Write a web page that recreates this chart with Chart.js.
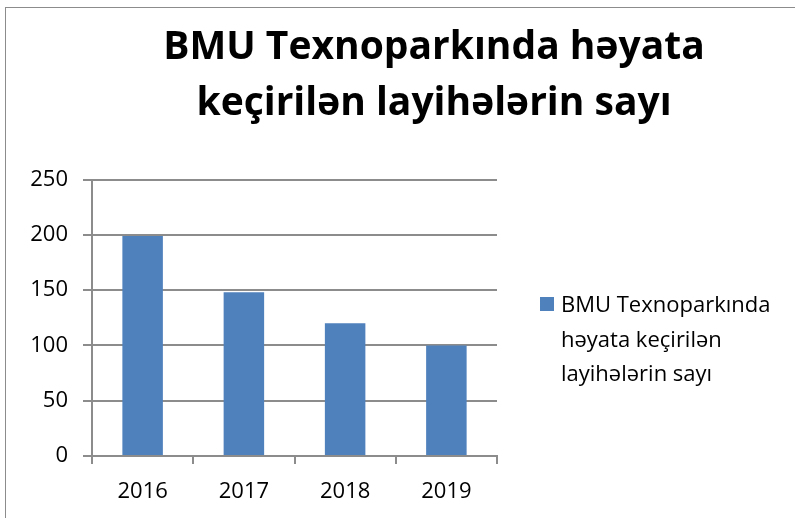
<!DOCTYPE html>
<html>
<head>
<meta charset="utf-8">
<script src="https://cdn.jsdelivr.net/npm/chart.js@4"></script>
<style>
  html, body { margin: 0; padding: 0; background: #fff; overflow: hidden; }
  #frame {
    position: absolute; left: 5px; top: 7px;
    width: 856px; height: 672px;
    border: 1px solid #8c8c8c;
  }
  #wrap { position: relative; width: 856px; height: 672px; }
  #legend {
    position: absolute; left: 534px; top: 278px;
    font-family: 'Open Sans', 'DejaVu Sans', sans-serif;
    font-size: 22px; line-height: 34.5px; color: #000;
  }
  #legend .item { position: relative; padding-left: 21px; }
  #legend .box {
    position: absolute; left: 0; top: 11px;
    width: 14px; height: 14px;
  }
</style>
</head>
<body>
<div id="frame">
  <div id="wrap"><canvas id="chart"></canvas></div>
  <div id="legend"></div>
</div>
<script>
  const titleLines = ["BMU Texnoparkında həyata", "keçirilən layihələrin sayı"];
  const seriesName = "BMU Texnoparkında həyata keçirilən layihələrin sayı";
  const legendLines = ["BMU Texnoparkında", "həyata keçirilən", "layihələrin sayı"];
  const years = ["2016", "2017", "2018", "2019"];
  const projects = [199, 148, 120, 100];

  const fontFamily = "'Open Sans', 'DejaVu Sans', sans-serif";
  const gridColor = "#8c8c8c";

  // legend is built as html, the wrapped label does not fit chart.js' own legend box
  const htmlLegend = {
    id: "htmlLegend",
    afterUpdate(chart) {
      const legendEl = document.getElementById("legend");
      legendEl.innerHTML = "";
      const items = chart.options.plugins.legend.labels.generateLabels(chart);
      items.forEach(item => {
        const div = document.createElement("div");
        div.className = "item";
        const box = document.createElement("span");
        box.className = "box";
        box.style.background = item.fillStyle;
        div.appendChild(box);
        legendLines.forEach((line, i) => {
          if (i > 0) div.appendChild(document.createElement("br"));
          div.appendChild(document.createTextNode(line));
        });
        legendEl.appendChild(div);
      });
    }
  };

  const ctx = document.getElementById("chart");
  new Chart(ctx, {
    type: "bar",
    data: {
      labels: years,
      datasets: [{
        label: seriesName,
        data: projects,
        backgroundColor: "#4f81bd",
        borderWidth: 0,
        categoryPercentage: 1.0,
        barPercentage: 0.4
      }]
    },
    options: {
      responsive: true,
      maintainAspectRatio: false,
      animation: false,
      layout: { padding: { left: 0, right: 0, top: 0, bottom: 160 } },
      plugins: {
        tooltip: { enabled: false },
        title: {
          display: true,
          text: titleLines,
          color: "#000",
          font: { family: fontFamily, size: 39, weight: "bold", lineHeight: 1.43 },
          padding: { top: 12, bottom: 48 }
        },
        legend: { display: false }
      },
      scales: {
        x: {
          grid: {
            offset: true,
            drawOnChartArea: false,
            color: gridColor,
            lineWidth: 2,
            tickLength: 8
          },
          border: { color: gridColor, width: 2 },
          ticks: { color: "#000", font: { family: fontFamily, size: 22 }, padding: 15 },
          afterFit: (scale) => { scale.height = 64; }
        },
        y: {
          min: 0,
          max: 250,
          ticks: { stepSize: 50, color: "#000", font: { family: fontFamily, size: 22 }, padding: 15 },
          grid: { color: gridColor, lineWidth: 2, tickLength: 9 },
          border: { color: gridColor, width: 2 },
          afterFit: (scale) => { scale.width = 86; }
        },
        // empty space right of the plot where the legend sits
        spacer: {
          type: "linear",
          position: "right",
          grid: { display: false },
          ticks: { display: false },
          border: { display: false },
          afterFit: (scale) => { scale.width = 365; }
        }
      }
    },
    plugins: [htmlLegend]
  });
</script>
</body>
</html>
